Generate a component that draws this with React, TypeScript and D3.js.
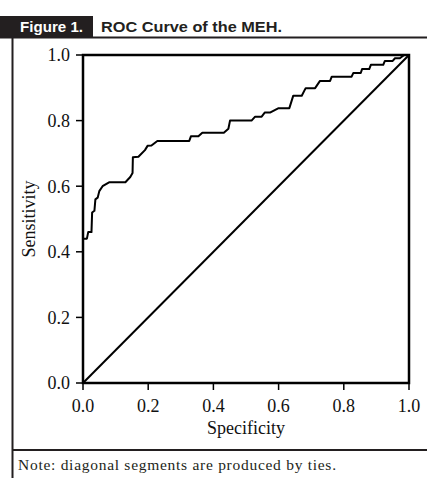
import React from 'react'
import * as d3 from 'd3'

// ROC curve points: x = 1 - specificity, y = sensitivity
const fprValues = [0, 0, 0.012, 0.016, 0.026, 0.028, 0.035, 0.038, 0.045, 0.05, 0.06, 0.068, 0.08, 0.13, 0.145, 0.152, 0.153, 0.17, 0.19, 0.198, 0.21, 0.228, 0.326, 0.331, 0.354, 0.366, 0.432, 0.446, 0.451, 0.517, 0.528, 0.548, 0.558, 0.575, 0.6, 0.633, 0.645, 0.671, 0.683, 0.712, 0.727, 0.758, 0.763, 0.824, 0.829, 0.852, 0.856, 0.878, 0.883, 0.921, 0.926, 0.95, 0.957, 0.972, 0.985, 1]
const tprValues = [0, 0.44, 0.44, 0.46, 0.46, 0.52, 0.525, 0.56, 0.565, 0.585, 0.6, 0.605, 0.612, 0.612, 0.628, 0.64, 0.688, 0.69, 0.71, 0.723, 0.724, 0.738, 0.738, 0.752, 0.752, 0.763, 0.763, 0.775, 0.8, 0.8, 0.812, 0.812, 0.825, 0.825, 0.838, 0.838, 0.876, 0.876, 0.899, 0.899, 0.921, 0.921, 0.934, 0.934, 0.945, 0.945, 0.957, 0.957, 0.97, 0.97, 0.982, 0.982, 0.99, 0.99, 1, 1]
const tickValues = [0, 0.2, 0.4, 0.6, 0.8, 1.0]
const referenceLine = [[0, 0], [1, 1]]

const figureLabel = 'Figure 1.'
const figureTitle = 'ROC Curve of the MEH.'
const xTitle = 'Specificity'
const yTitle = 'Sensitivity'
const note = 'Note: diagonal segments are produced by ties.'

export default function App() {
    const width = 427
    const height = 478
    const left = 83, right = 409, top = 55, bottom = 383

    const x = d3.scaleLinear().domain([0, 1]).range([left, right])
    const y = d3.scaleLinear().domain([0, 1]).range([bottom, top])

    const points: [number, number][] = fprValues.map((f, i) => [f, tprValues[i]])
    const line = d3.line<[number, number]>()
        .x(d => x(d[0]))
        .y(d => y(d[1]))

    const serif = '"Liberation Serif", "Times New Roman", serif'
    const sans = '"Liberation Sans", Arial, sans-serif'

    return (
        <div style={{ position: 'fixed', left: 0, top: 0 }}>
            <svg width={width} height={height} style={{ display: 'block', background: '#fff' }}>
                {/* header */}
                <rect x={0} y={16} width={93} height={21} fill="#231f20" />
                <text x={20} y={32} fill="#fff" fontFamily={sans} fontWeight="bold" fontSize={14.5} textLength={63} lengthAdjust="spacingAndGlyphs">{figureLabel}</text>
                <text x={101} y={32} fill="#231f20" fontFamily={sans} fontWeight="bold" fontSize={14.5} textLength={181} lengthAdjust="spacingAndGlyphs">{figureTitle}</text>
                <line x1={0} x2={width} y1={37.5} y2={37.5} stroke="#231f20" strokeWidth={2} />
                <line x1={12.5} x2={12.5} y1={37} y2={height} stroke="#231f20" strokeWidth={2} />
                <line x1={12} x2={width} y1={450} y2={450} stroke="#231f20" strokeWidth={2} />
                <text x={18} y={470} fill="#231f20" fontFamily={serif} fontSize={15.5} textLength={318} lengthAdjust="spacing">{note}</text>

                {/* frame */}
                <rect x={left} y={top} width={right - left} height={bottom - top} fill="none" stroke="#000" strokeWidth={2.5} />

                {/* y axis */}
                {tickValues.map(t => (
                    <g key={'y' + t}>
                        <line x1={left - 7} x2={left} y1={y(t)} y2={y(t)} stroke="#000" strokeWidth={1.5} />
                        <text x={left - 13} y={y(t)} dy="0.35em" textAnchor="end" fontFamily={serif} fontSize={18} fill="#111">{t.toFixed(1)}</text>
                    </g>
                ))}
                {/* x axis */}
                {tickValues.map(t => (
                    <g key={'x' + t}>
                        <line x1={x(t)} x2={x(t)} y1={bottom} y2={bottom + 7} stroke="#000" strokeWidth={1.5} />
                        <text x={x(t)} y={412} textAnchor="middle" fontFamily={serif} fontSize={18} fill="#111">{t.toFixed(1)}</text>
                    </g>
                ))}
                <text x={(left + right) / 2} y={434} textAnchor="middle" fontFamily={serif} fontSize={18} fill="#111">{xTitle}</text>
                <text transform={`translate(35, ${(top + bottom) / 2}) rotate(-90)`} textAnchor="middle" fontFamily={serif} fontSize={18} fill="#111">{yTitle}</text>

                {/* reference diagonal */}
                <path d={line(referenceLine as [number, number][]) || ''} fill="none" stroke="#000" strokeWidth={2} />
                {/* ROC curve */}
                <path d={line(points) || ''} fill="none" stroke="#000" strokeWidth={2} strokeLinejoin="round" />
            </svg>
        </div>
    )
}
